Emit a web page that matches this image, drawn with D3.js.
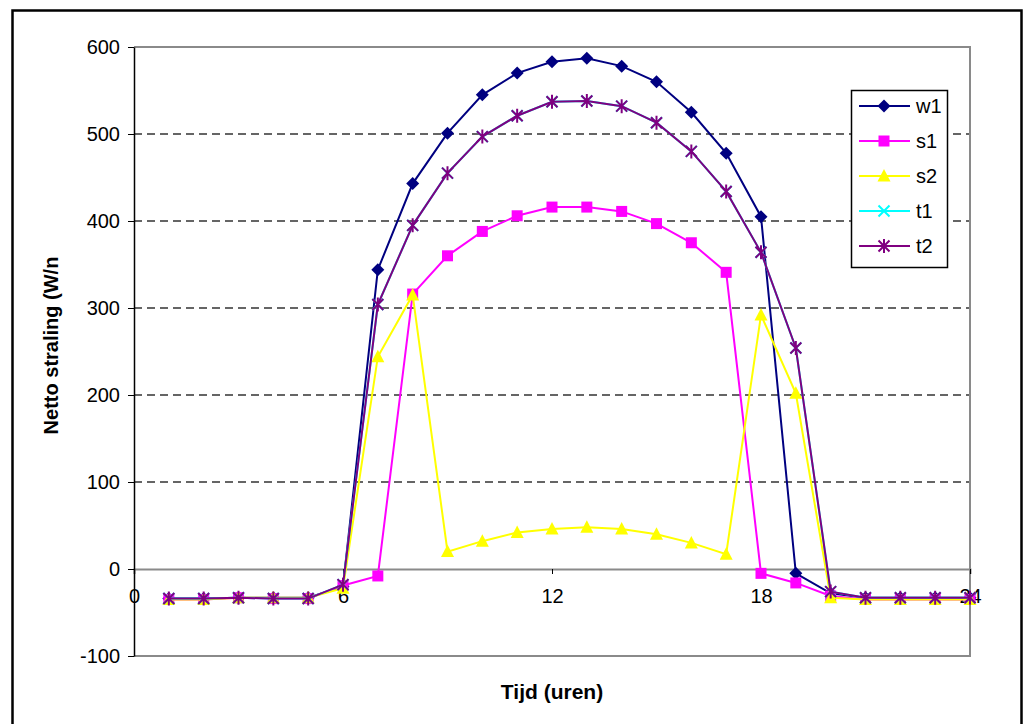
<!DOCTYPE html>
<html>
<head>
<meta charset="utf-8">
<script src="https://cdn.jsdelivr.net/npm/d3@7"></script>
<style>
  body { margin: 0; background: #fff; }
  svg { font-family: "Liberation Sans", Arial, sans-serif; }
</style>
</head>
<body>
<div id="wrapper"></div>
<script>
// data
const hours = [1, 2, 3, 4, 5, 6, 7, 8, 9, 10, 11, 12, 13, 14, 15, 16, 17, 18, 19, 20, 21, 22, 23, 24]
const w1 = [-34, -34, -33, -33, -33, -20, 344, 443, 501, 545, 570, 583, 587, 578, 560, 525, 478, 405, -5, -28, -33, -33, -33, -33]
const s1 = [-35, -35, -33, -34, -34, -19, -8, 316, 360, 388, 406, 416, 416, 411, 397, 375, 341, -5, -16, -31, -35, -35, -35, -35]
const s2 = [-35, -35, -33, -33, -33, -22, 244, 315, 20, 32, 42, 46, 48, 46, 40, 30, 17, 292, 202, -33, -35, -35, -35, -35]
const t1 = [-34, -34, -33, -34, -34, -18, 304, 395, 455, 497, 521, 537, 538, 532, 513, 480, 434, 364, 254, -26, -33, -33, -33, -33]
const t2 = [-34, -34, -33, -34, -34, -18, 304, 395, 455, 497, 521, 537, 538, 532, 513, 480, 434, 364, 254, -26, -33, -33, -33, -33]
const seriesNames = ["w1", "s1", "s2", "t1", "t2"]
const xTicks = [0, 6, 12, 18, 24]
const yTicks = [-100, 0, 100, 200, 300, 400, 500, 600]

const seriesValues = { w1, s1, s2, t1, t2 }
const styles = {
  w1: { color: "#000080", marker: "diamond" },
  s1: { color: "#ff00ff", marker: "square" },
  s2: { color: "#ffff00", marker: "triangle" },
  t1: { color: "#00ffff", marker: "cross" },
  t2: { color: "#800080", marker: "star" }
}
const series = seriesNames.map(name => ({
  name,
  ...styles[name],
  points: hours.map((h, i) => ({ x: h, y: seriesValues[name][i] }))
}))

// dimensions
const dimensions = {
  width: 1026,
  height: 724,
  plot: { left: 134, right: 970, top: 47, bottom: 656 }
}

const svg = d3.select("#wrapper")
  .append("svg")
    .attr("width", dimensions.width)
    .attr("height", dimensions.height)

// outer chart border
svg.append("rect")
  .attr("x", 12.5).attr("y", 10.5)
  .attr("width", 1009).attr("height", 720)
  .attr("fill", "none")
  .attr("stroke", "#000")
  .attr("stroke-width", 2.5)

// scales
const xScale = d3.scaleLinear()
  .domain([0, 24])
  .range([dimensions.plot.left, dimensions.plot.right])
const yScale = d3.scaleLinear()
  .domain([-100, 600])
  .range([dimensions.plot.bottom, dimensions.plot.top])

// gridlines
svg.append("g")
  .selectAll("line")
  .data(yTicks.filter(d => d > 0 && d < 600))
  .join("line")
    .attr("x1", dimensions.plot.left)
    .attr("x2", dimensions.plot.right)
    .attr("y1", d => yScale(d))
    .attr("y2", d => yScale(d))
    .attr("stroke", "#333")
    .attr("stroke-width", 1.3)
    .attr("stroke-dasharray", "8,5")

// plot border (gray)
const p = dimensions.plot
svg.append("path")
  .attr("d", `M${p.left},${p.top}H${p.right}V${p.bottom}H${p.left}`)
  .attr("fill", "none")
  .attr("stroke", "#8a8a8a")
  .attr("stroke-width", 2)

// x axis at zero
const xAxis = d3.axisBottom(xScale)
  .tickValues(xTicks)
  .tickSize(5)
  .tickPadding(15)
svg.append("g")
  .attr("transform", `translate(0,${yScale(0)})`)
  .call(xAxis)
  .call(g => g.select(".domain").attr("stroke", "#8a8a8a").attr("stroke-width", 2))
  .call(g => g.selectAll(".tick line").attr("stroke", "#000"))
  .call(g => g.selectAll(".tick text")
    .attr("font-size", 20)
    .attr("fill", "#000")
    .attr("font-family", "Liberation Sans, Arial, sans-serif"))

// y axis
const yAxis = d3.axisLeft(yScale)
  .tickValues(yTicks)
  .tickFormat(d => String(d))
  .tickSize(6)
  .tickPadding(8)
  .tickSizeOuter(0)
svg.append("g")
  .attr("transform", `translate(${p.left},0)`)
  .call(yAxis)
  .call(g => g.select(".domain").attr("stroke", "#000").attr("stroke-width", 1.5))
  .call(g => g.selectAll(".tick text")
    .attr("font-size", 20)
    .attr("fill", "#000")
    .attr("font-family", "Liberation Sans, Arial, sans-serif"))

// series
const line = d3.line()
  .x(d => xScale(d.x))
  .y(d => yScale(d.y))

function drawMarker(g, type, color) {
  if (type === "diamond") {
    g.append("path").attr("d", "M0,-6.5L6.5,0L0,6.5L-6.5,0Z").attr("fill", color)
  } else if (type === "square") {
    g.append("rect").attr("x", -5.5).attr("y", -5.5).attr("width", 11).attr("height", 11).attr("fill", color)
  } else if (type === "triangle") {
    g.append("path").attr("d", "M0,-7L6.5,5.5L-6.5,5.5Z").attr("fill", color)
  } else if (type === "cross") {
    g.append("path").attr("d", "M-5.5,-5.5L5.5,5.5M5.5,-5.5L-5.5,5.5").attr("stroke", color).attr("stroke-width", 2)
  } else if (type === "star") {
    g.append("path").attr("d", "M-5.5,-5.5L5.5,5.5M5.5,-5.5L-5.5,5.5M0,-7V7")
      .attr("stroke", color).attr("stroke-width", 2)
  }
}

series.forEach(s => {
  const g = svg.append("g")
  g.append("path")
    .datum(s.points)
    .attr("d", line)
    .attr("fill", "none")
    .attr("stroke", s.color)
    .attr("stroke-width", 2)
  g.selectAll("g")
    .data(s.points)
    .join("g")
      .attr("transform", d => `translate(${xScale(d.x)},${yScale(d.y)})`)
      .each(function() { drawMarker(d3.select(this), s.marker, s.color) })
})

// axis titles
svg.append("text")
  .attr("x", (p.left + p.right) / 2)
  .attr("y", 692)
  .attr("dy", "0.35em")
  .attr("text-anchor", "middle")
  .attr("font-size", 21)
  .attr("font-weight", "bold")
  .text("Tijd (uren)")

svg.append("text")
  .attr("transform", `translate(51,${(p.top + p.bottom) / 2 - 6}) rotate(-90)`)
  .attr("dy", "0.35em")
  .attr("text-anchor", "middle")
  .attr("font-size", 20)
  .attr("font-weight", "bold")
  .text("Netto straling (W/n")

// legend
const legend = svg.append("g")
  .attr("transform", "translate(851,90)")
legend.append("rect")
  .attr("x", 0.5).attr("y", 0.5)
  .attr("width", 96).attr("height", 177)
  .attr("fill", "#fff")
  .attr("stroke", "#000")
  .attr("stroke-width", 1.5)

const items = legend.selectAll("g.item")
  .data(series)
  .join("g")
    .attr("class", "item")
    .attr("transform", (d, i) => `translate(0,${16 + i * 35})`)
items.append("line")
  .attr("x1", 8).attr("x2", 59)
  .attr("stroke", d => d.color)
  .attr("stroke-width", 2)
items.each(function(d) {
  const m = d3.select(this).append("g").attr("transform", "translate(33,0)")
  drawMarker(m, d.marker, d.color)
})
items.append("text")
  .attr("x", 65)
  .attr("dy", "0.35em")
  .attr("font-size", 20)
  .text(d => d.name)
</script>
</body>
</html>
